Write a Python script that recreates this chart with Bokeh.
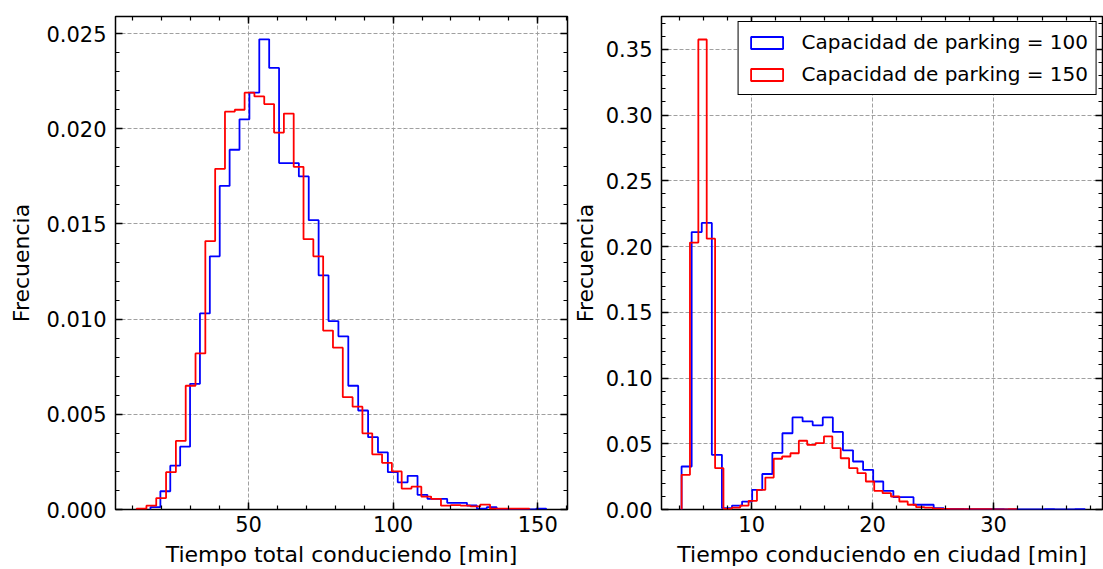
import numpy as np
from bokeh.plotting import figure
from bokeh.layouts import row
from bokeh.models import (Range1d, SingleIntervalTicker, LinearAxis, NumeralTickFormatter,
                          Legend, LegendItem)
from bokeh.embed import file_html
from bokeh.resources import INLINE

# ---------------- data ----------------
series_labels = ["Capacidad de parking = 100", "Capacidad de parking = 150"]
series_colors = ["#0000ff", "#ff0000"]
x_labels = ["Tiempo total conduciendo [min]", "Tiempo conduciendo en ciudad [min]"]
y_label = "Frecuencia"

# Left panel: total driving time, 40 bins each (density)
total_100_range = (16.1, 152.9)
total_100_density = [0.00012, 0.00096, 0.0023, 0.0033, 0.0066, 0.0103, 0.0133, 0.0170,
                     0.0189, 0.0205, 0.0219, 0.0247, 0.0232, 0.0182, 0.0182, 0.0175,
                     0.0152, 0.0123, 0.0099, 0.0091, 0.0065, 0.0052, 0.0038, 0.0030,
                     0.00196, 0.00143, 0.00177, 0.00077, 0.00056, 0.00056, 0.00035, 0.00035,
                     0.00021, 0.00005, 0.00012, 0.0, 0.0, 0.0, 0.0, 0.00005]
total_150_range = (11.3, 147.1)
total_150_density = [0.00004, 0.0002, 0.0006, 0.00196, 0.0036, 0.0065, 0.0082, 0.0141,
                     0.0179, 0.0209, 0.0210, 0.0219, 0.0217, 0.0213, 0.0198, 0.0208,
                     0.0180, 0.0142, 0.0133, 0.0094, 0.0085, 0.0059, 0.0054, 0.0040,
                     0.0029, 0.00245, 0.0020, 0.0011, 0.0012, 0.00068, 0.00056, 0.0002,
                     0.00023, 0.0002, 0.00016, 0.00026, 0.00004, 0.00004, 0.00004, 0.00004]

# Right panel: city driving time, 40 bins each (density)
city_100_range = (4.21, 37.55)
city_100_density = [0.0327, 0.211, 0.218, 0.0416, 0.001, 0.003, 0.006, 0.015,
                    0.027, 0.043, 0.058, 0.070, 0.067, 0.064, 0.070, 0.059,
                    0.045, 0.0365, 0.0302, 0.0213, 0.0142, 0.0094, 0.0094, 0.0036,
                    0.0036, 0.001, 0.0005, 0.0004, 0.0003, 0.0002, 0.0002, 0.0002,
                    0.0001, 0.0001, 0.0001, 0.0, 0.0002, 0.0, 0.0, 0.0002]
city_150_range = (4.21, 31.9)
city_150_density = [0.0264, 0.203, 0.3575, 0.206, 0.0314, 0.0005, 0.0015, 0.003,
                    0.0066, 0.015, 0.0243, 0.0386, 0.0403, 0.0428, 0.0523, 0.0492,
                    0.0505, 0.0556, 0.0467, 0.039, 0.0314, 0.0276, 0.0213, 0.0142,
                    0.0124, 0.0099, 0.0061, 0.0036, 0.0018, 0.0015, 0.0006, 0.0004,
                    0.0003, 0.0003, 0.0002, 0.0002, 0.0002, 0.0001, 0.0001, 0.0002]

FONT = "DejaVu Sans"
TICK_FS = "21px"
LABEL_FS = "22px"
HEIGHT = 569


def step_outline(rng, dens):
    edges = np.linspace(rng[0], rng[1], len(dens) + 1)
    xs = [edges[0]]
    ys = [0.0]
    for i, h in enumerate(dens):
        xs += [edges[i], edges[i + 1]]
        ys += [h, h]
    xs.append(edges[-1])
    ys.append(0.0)
    return xs, ys


def style_axis(ax, show_labels=True):
    ax.axis_line_color = None
    ax.major_tick_in = 7
    ax.major_tick_out = 0
    ax.minor_tick_in = 4
    ax.minor_tick_out = 0
    ax.major_tick_line_color = "black"
    ax.minor_tick_line_color = "black"
    ax.major_tick_line_width = 1.5
    ax.minor_tick_line_width = 1.2
    if show_labels:
        ax.major_label_text_font = FONT
        ax.major_label_text_font_size = TICK_FS
        ax.major_label_text_color = "black"
        ax.axis_label_text_font = FONT
        ax.axis_label_text_font_size = LABEL_FS
        ax.axis_label_text_font_style = "normal"
        ax.axis_label_text_color = "black"
    else:
        ax.major_label_text_color = None
        ax.major_label_text_font_size = "1px"
        ax.major_label_standoff = 0


def make_fig(width, bl, br, xr, yr, xint, yint, yfmt, xlabel, ytick_standoff, ylabel_standoff):
    p = figure(width=width, height=HEIGHT, x_range=Range1d(*xr), y_range=Range1d(*yr),
               output_backend="svg", toolbar_location=None,
               min_border_left=bl, min_border_right=br, min_border_top=16,
               min_border_bottom=HEIGHT - 509)
    p.background_fill_color = "white"
    p.border_fill_color = "white"
    p.outline_line_color = "black"
    p.outline_line_width = 1.5

    p.xaxis.ticker = SingleIntervalTicker(interval=xint, num_minor_ticks=5)
    p.yaxis.ticker = SingleIntervalTicker(interval=yint, num_minor_ticks=5)
    p.yaxis.formatter = NumeralTickFormatter(format=yfmt)
    p.xaxis.axis_label = xlabel
    p.yaxis.axis_label = y_label
    for ax in p.xaxis + p.yaxis:
        style_axis(ax)
    p.xaxis.major_label_standoff = 6
    p.xaxis.axis_label_standoff = 7
    p.yaxis.major_label_standoff = ytick_standoff
    p.yaxis.axis_label_standoff = ylabel_standoff

    top = LinearAxis(ticker=SingleIntervalTicker(interval=xint, num_minor_ticks=5))
    right = LinearAxis(ticker=SingleIntervalTicker(interval=yint, num_minor_ticks=5))
    style_axis(top, False)
    style_axis(right, False)
    p.add_layout(top, "above")
    p.add_layout(right, "right")

    p.grid.grid_line_color = "#a0a0a0"
    p.grid.grid_line_dash = "4 2"
    p.grid.grid_line_width = 1
    return p


# Left panel
p1 = make_fig(569, 115, 2, (4.0, 160.3), (0, 0.0259), 50, 0.005, "0.000", x_labels[0], 9, 9)
for rng, dens, col in [(total_100_range, total_100_density, series_colors[0]),
                       (total_150_range, total_150_density, series_colors[1])]:
    xs, ys = step_outline(rng, dens)
    p1.line(xs, ys, line_color=col, line_width=1.8)

# Right panel
p2 = make_fig(534, 89, 1, (2.55, 39.0), (0, 0.375), 10, 0.05, "0.00", x_labels[1], 9, 5)
items = []
for rng, dens, col, lab in [(city_100_range, city_100_density, series_colors[0], series_labels[0]),
                            (city_150_range, city_150_density, series_colors[1], series_labels[1])]:
    xs, ys = step_outline(rng, dens)
    p2.line(xs, ys, line_color=col, line_width=1.8)
    # hidden patch: only used for the rectangle-outline legend glyph
    pr = p2.patch(xs, ys, fill_alpha=0, fill_color=None, line_color=col, line_width=1.8,
                  visible=False)
    items.append(LegendItem(label=lab, renderers=[pr]))

legend = Legend(items=items, location="top_right")
legend.label_text_font = FONT
legend.label_text_font_size = "20px"
legend.label_text_color = "black"
legend.glyph_width = 40
legend.glyph_height = 15
legend.label_height = 23
legend.label_standoff = 15
legend.padding = 8
legend.spacing = 8
legend.margin = 5
legend.border_line_color = "black"
legend.border_line_alpha = 1
legend.border_line_width = 1.2
legend.background_fill_color = "white"
legend.background_fill_alpha = 1
legend.inactive_fill_alpha = 0
p2.add_layout(legend)

layout = row(p1, p2, spacing=0)
open("out.html", "w").write(file_html(layout, INLINE))
